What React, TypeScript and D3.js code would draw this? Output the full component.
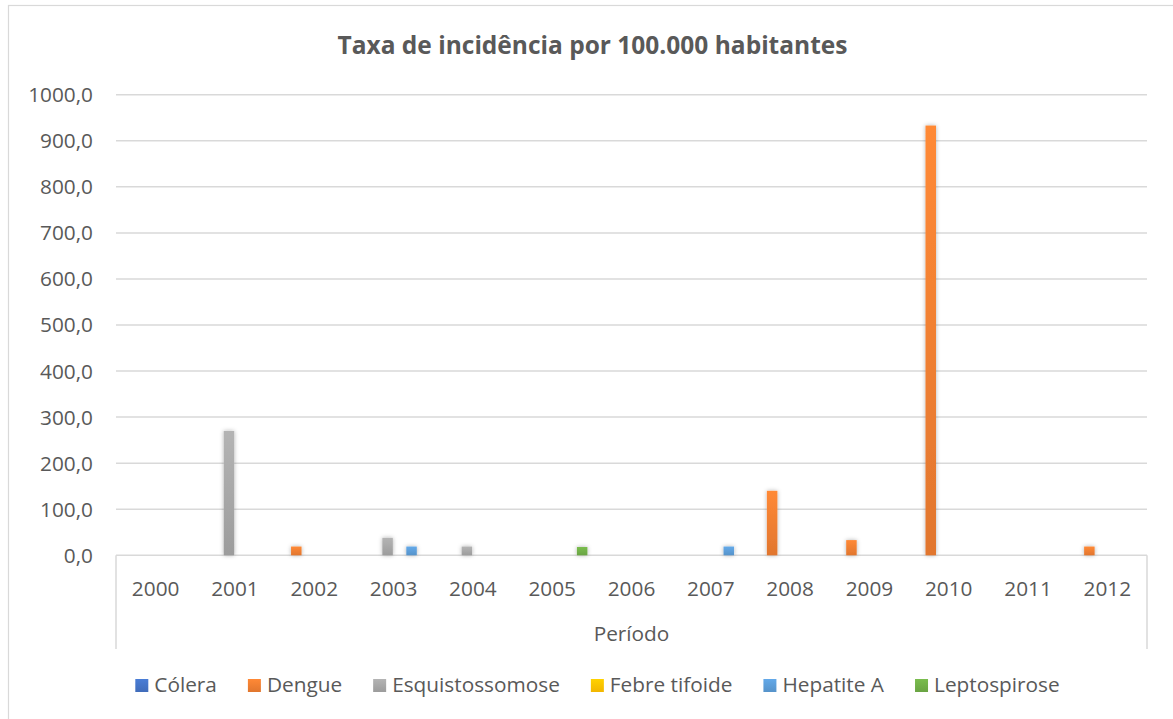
import React, { useEffect, useRef } from "react";
import * as d3 from "d3";

const years = ["2000","2001","2002","2003","2004","2005","2006","2007","2008","2009","2010","2011","2012"];
const seriesNames = ["Cólera","Dengue","Esquistossomose","Febre tifoide","Hepatite A","Leptospirose"];
const seriesColors = ["#4472C4","#ED7D31","#A5A5A5","#FFC000","#5B9BD5","#70AD47"];
const colera =          [0, 0,   0,  0,  0,  0, 0,  0,   0,  0,   0, 0,  0];
const dengue =          [0, 0,  19,  0,  0,  0, 0,  0, 140, 33, 933, 0, 19];
const esquistossomose = [0, 270, 0, 38, 19,  0, 0,  0,   0,  0,   0, 0,  0];
const febreTifoide =    [0, 0,   0,  0,  0,  0, 0,  0,   0,  0,   0, 0,  0];
const hepatiteA =       [0, 0,   0, 19,  0,  0, 0, 19,   0,  0,   0, 0,  0];
const leptospirose =    [0, 0,   0,  0,  0, 18, 0,  0,   0,  0,   0, 0,  0];
const yTicks = [0,100,200,300,400,500,600,700,800,900,1000];
const titleText = "Taxa de incidência por 100.000 habitantes";
const xAxisTitle = "Período";

const seriesValues = [colera, dengue, esquistossomose, febreTifoide, hepatiteA, leptospirose];

const FONT = "'Open Sans', Lato, sans-serif";
const TEXT = "#595959";
const GRID = "#D9D9D9";

export default function App() {
  const ref = useRef<SVGSVGElement | null>(null);

  useEffect(() => {
    document.body.style.margin = "0";
    const svg = d3.select(ref.current!);
    svg.selectAll("*").remove();

    const W = 1173, H = 719;
    const left = 116, right = 1147, y0 = 555.3, yTop = 94.7;

    const defs = svg.append("defs");
    const f = defs.append("filter").attr("id", "shadow")
      .attr("x", "-100%").attr("y", "-60%").attr("width", "300%").attr("height", "220%");
    f.append("feDropShadow").attr("dx", 0).attr("dy", 0).attr("stdDeviation", 2.2)
      .attr("flood-color", "#000").attr("flood-opacity", 0.3);
    seriesColors.forEach((c, i) => {
      const g = defs.append("linearGradient").attr("id", "grad" + i)
        .attr("x1", 0).attr("y1", 0).attr("x2", 0).attr("y2", 1);
      g.append("stop").attr("offset", "0%").attr("stop-color", d3.color(c)!.brighter(0.25).formatHex());
      g.append("stop").attr("offset", "100%").attr("stop-color", d3.color(c)!.darker(0.15).formatHex());
    });

    svg.append("rect").attr("x", 0).attr("y", 0).attr("width", W).attr("height", H).attr("fill", "#fff");
    svg.append("rect").attr("x", 8.5).attr("y", 5.5).attr("width", W + 20).attr("height", H + 20)
      .attr("fill", "none").attr("stroke", GRID).attr("stroke-width", 1.2);

    const x = d3.scaleBand<string>().domain(years).range([left, right]).padding(0);
    const xi = d3.scaleBand<string>().domain(seriesNames).range([0, x.bandwidth()])
      .paddingInner(0.125).paddingOuter(0.371);
    const y = d3.scaleLinear().domain([0, 1000]).range([y0, yTop]);

    // gridlines
    svg.append("g").selectAll("line").data(yTicks).join("line")
      .attr("x1", left).attr("x2", right)
      .attr("y1", d => y(d)).attr("y2", d => y(d))
      .attr("stroke", GRID).attr("stroke-width", 1.5);

    // y labels
    svg.append("g").selectAll("text").data(yTicks).join("text")
      .attr("x", 93).attr("y", d => y(d)).attr("dy", "0.36em")
      .attr("text-anchor", "end").attr("fill", TEXT)
      .attr("font-family", FONT).attr("font-size", 20.8)
      .text(d => d3.format(".1f")(d).replace(".", ","));

    // category axis box
    [left, right].forEach(xx => {
      svg.append("line").attr("x1", xx).attr("x2", xx).attr("y1", y0).attr("y2", 649)
        .attr("stroke", GRID).attr("stroke-width", 1.5);
    });

    // bars
    const bars = svg.append("g");
    seriesNames.forEach((s, si) => {
      bars.append("g").selectAll("rect")
        .data(years.map((yr, i) => ({ yr, v: seriesValues[si][i] })).filter(d => d.v > 0))
        .join("rect")
        .attr("x", d => x(d.yr)! + xi(s)!)
        .attr("width", xi.bandwidth())
        .attr("y", d => y(d.v))
        .attr("height", d => y(0) - y(d.v))
        .attr("fill", `url(#grad${si})`)
        .attr("filter", "url(#shadow)");
    });

    // category labels
    svg.append("g").selectAll("text").data(years).join("text")
      .attr("x", d => x(d)! + x.bandwidth() / 2).attr("y", 595.5)
      .attr("text-anchor", "middle").attr("fill", TEXT)
      .attr("font-family", FONT).attr("font-size", 20.8)
      .text(d => d);

    svg.append("text").attr("x", (left + right) / 2).attr("y", 641)
      .attr("text-anchor", "middle").attr("fill", TEXT)
      .attr("font-family", FONT).attr("font-size", 20.8).text(xAxisTitle);

    // title
    svg.append("text").attr("x", 592.5).attr("y", 53.5)
      .attr("text-anchor", "middle").attr("fill", TEXT)
      .attr("font-family", FONT).attr("font-size", 24.5).attr("font-weight", "bold")
      .text(titleText);

    // legend
    const lg = svg.append("g");
    const items = seriesNames.map((s, i) => {
      const g = lg.append("g");
      g.append("rect").attr("x", 0).attr("y", -13).attr("width", 13).attr("height", 13)
        .attr("fill", `url(#grad${i})`);
      const t = g.append("text").attr("x", 19).attr("y", 0).attr("fill", TEXT)
        .attr("font-family", FONT).attr("font-size", 20.8).text(s);
      const w = (t.node() as SVGTextElement).getComputedTextLength();
      return { g, w: 19 + w };
    });
    const gap = 31;
    const total = d3.sum(items, d => d.w) + gap * (items.length - 1);
    let cx = 597.5 - total / 2;
    items.forEach(it => {
      it.g.attr("transform", `translate(${cx},692)`);
      cx += it.w + gap;
    });
  }, []);

  return <svg ref={ref} width={1173} height={719} style={{ display: "block" }} />;
}
